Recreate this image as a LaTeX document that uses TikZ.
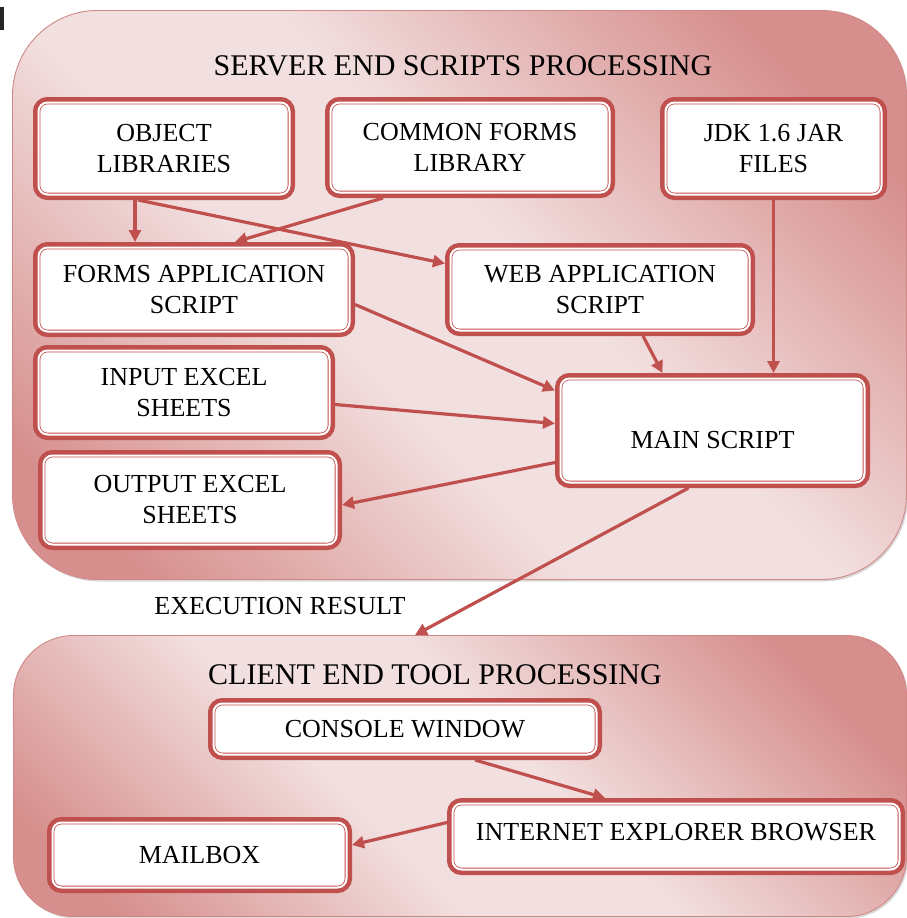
\documentclass[tikz,border=0pt]{standalone}
\usepackage{fontspec}
\setmainfont{Liberation Serif}
\usetikzlibrary{arrows.meta,shadows}

\definecolor{boxred}{HTML}{C0504D}
\definecolor{pdark}{HTML}{D68F8D}
\definecolor{plight}{HTML}{F2DFDF}
\definecolor{pedge}{HTML}{D08886}

% diagonal band: dark corners, light middle
\pgfdeclareverticalshading{panelband}{100bp}{%
  color(0bp)=(pdark); color(21bp)=(pdark); color(42bp)=(plight);
  color(55bp)=(plight); color(77bp)=(pdark); color(100bp)=(pdark)}

\tikzset{
  panel/.style={draw=pedge, line width=0.9pt,
    shading=panelband, shading angle=-45,
    drop shadow={shadow xshift=1.5pt, shadow yshift=-2pt, opacity=0.3}},
  box/.style={rounded corners=9pt, fill=white, draw=boxred, line width=0.8pt,
    double=white, double distance=2pt,
    preaction={draw=boxred, line width=11pt},
    outer sep=5.5pt, inner sep=0pt, align=center, text=black,
    font=\fontsize{26}{31}\selectfont},
  heading/.style={inner sep=0pt, text=black, font=\fontsize{30}{34}\selectfont},
  note/.style={inner sep=0pt, text=black, font=\fontsize{26}{30}\selectfont},
  link/.style={draw=boxred, line width=3.2pt,
    -{Triangle[length=12pt,width=12pt]}},
}

\begin{document}
\begin{tikzpicture}[x=1pt,y=1pt]
\useasboundingbox (0,0) rectangle (907,-918);

% small dark mark in the top left corner
\fill[black!85] (0,-7) rectangle (3.5,-30);

% the two processing panels
\node[panel, rounded corners=85pt, minimum width=894pt, minimum height=569pt]
  (server) at (459.5,-295) {};
\node[panel, rounded corners=60pt, minimum width=893pt, minimum height=281pt]
  (client) at (460,-776) {};

\node[heading] (servertitle) at (463,-66) {SERVER END SCRIPTS PROCESSING};
\node[heading] (clienttitle) at (435,-675) {CLIENT END TOOL PROCESSING};
\node[note] (result) at (280,-606) {EXECUTION RESULT};

% server side boxes
\node[box, minimum width=251pt, minimum height=92pt] (obj) at (164,-148.5)
  {OBJECT\\LIBRARIES};
\node[box, minimum width=279pt, minimum height=90pt] (common) at (470,-147.5)
  {COMMON FORMS\\LIBRARY};
\node[box, minimum width=216pt, minimum height=92pt] (jdk) at (773.5,-148.5)
  {JDK 1.6 JAR\\FILES};
\node[box, minimum width=311pt, minimum height=84pt] (forms) at (194,-289.5)
  {FORMS APPLICATION\\SCRIPT};
\node[box, minimum width=299pt, minimum height=82pt] (web) at (600,-289.5)
  {WEB APPLICATION\\SCRIPT};
\node[box, minimum width=291pt, minimum height=84pt] (input) at (184,-392.5)
  {INPUT EXCEL\\SHEETS};
\node[box, minimum width=293pt, minimum height=89pt] (output) at (190,-500)
  {OUTPUT EXCEL\\SHEETS};
\node[box, minimum width=304pt, minimum height=104pt] (main) at (712.5,-430.5)
  {\raisebox{-17.6pt}[0pt][0pt]{MAIN SCRIPT}};

% client side boxes
\node[box, minimum width=383pt, minimum height=51pt] (console) at (405,-729)
  {CONSOLE WINDOW};
\node[box, minimum width=447pt, minimum height=66pt] (ie) at (676,-836.5)
  {\raisebox{-4.1pt}[0pt][0pt]{INTERNET EXPLORER BROWSER}};
\node[box, minimum width=294pt, minimum height=65pt] (mail) at (199.5,-855)
  {MAILBOX};

% connectors
\draw[link] ([xshift=-29pt]obj.south) -- ([xshift=-59pt]forms.north);
\draw[link] ([xshift=-26pt]obj.south) -- ([yshift=26pt]web.west);
\draw[link] ([xshift=-87pt]common.south) -- ([xshift=41pt]forms.north);
\draw[link] ([yshift=-15pt]forms.east) -- ([yshift=40pt]main.west);
\draw[link] ([yshift=-12pt]input.east) -- ([yshift=7pt]main.west);
\draw[link] ([yshift=-32pt]main.west) -- ([yshift=-5pt]output.east);
\draw[link] ([xshift=43pt]web.south) -- ([xshift=-50pt]main.north);
\draw[link] (jdk.south) -- ([xshift=61pt]main.north);
\draw[link] ([xshift=-24pt]main.south) -- ([xshift=-45pt]client.north);
\draw[link] ([xshift=70pt]console.south) -- ([xshift=-71pt]ie.north);
\draw[link] ([yshift=14pt]ie.west) -- ([yshift=10pt]mail.east);
\end{tikzpicture}
\end{document}
